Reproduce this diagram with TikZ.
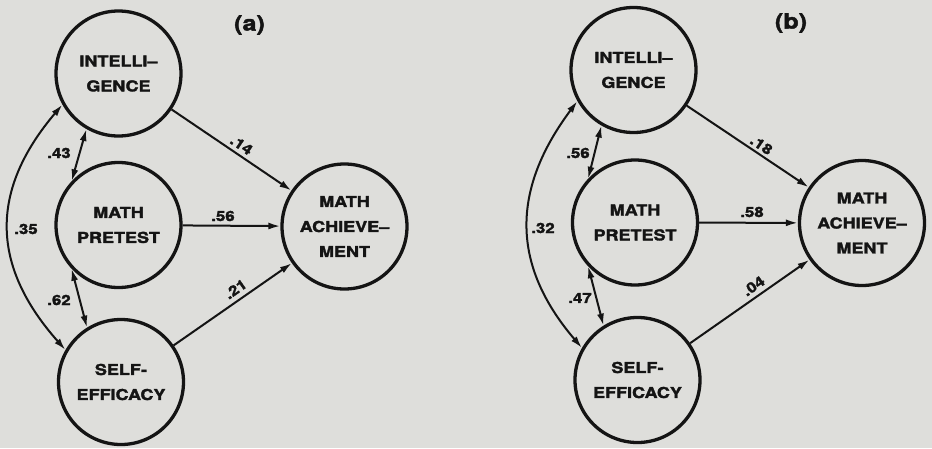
\documentclass[tikz,border=0pt]{standalone}
\usepackage{fontspec}
\newfontfamily\dfont[FakeStretch=1.2,FakeBold=2,BoldFeatures={FakeBold=2}]{TeX Gyre Heros}
\usetikzlibrary{arrows.meta}
\definecolor{paper}{RGB}{222,222,219}
\definecolor{ink}{RGB}{20,20,20}
\tikzset{
  var/.style={circle,draw=ink,line width=3.3pt,minimum size=125pt,inner sep=0pt,
    align=center,text=ink,font=\dfont\bfseries\fontsize{15}{25}\selectfont},
  arr/.style={draw=ink,line width=2pt,-{Latex[length=12pt,width=7pt]}},
  darr/.style={draw=ink,line width=2pt,{Latex[length=12pt,width=7pt]}-{Latex[length=12pt,width=7pt]}},
  coef/.style={text=ink,inner sep=0.5pt,font=\dfont\bfseries\fontsize{14}{14}\selectfont},
  ptitle/.style={text=ink,inner sep=0pt,font=\dfont\bfseries\fontsize{21}{21}\selectfont}
}
\begin{document}
\begin{tikzpicture}[x=1pt,y=-1pt]
\fill[paper] (0,0) rectangle (932,448);
\useasboundingbox (0,0) rectangle (932,448);

% ---------- panel (a)
\node[ptitle] (ta) at (249.5,25) {(a)};
\node[var] (ia) at (118.5,73.5) {INTELLI–\\GENCE};
\node[var] (pa) at (118.5,225) {MATH\\PRETEST};
\node[var] (aa) at (344.5,226.5) {MATH\\ACHIEVE–\\MENT};
\node[var] (sa) at (121,382) {SELF-\\EFFICACY};

\draw[arr] (ia) -- (aa);
\draw[arr] (pa) -- (aa);
\draw[arr] (sa) -- (aa);
\draw[darr] (ia.240) -- (pa.137);
\draw[darr] (pa.223) -- (sa.122);
\draw[darr] (ia.209) .. controls (-10,190) and (-10,265) .. (sa.150);

\node[coef] (a43) at (59,153) {.43};
\node[coef] (a62) at (59,300) {.62};
\node[coef] (a35) at (26,229) {.35};
\node[coef] (a56) at (223,216) {.56};
\node[coef,rotate=-34] (a14) at (241.5,145) {.14};
\node[coef,rotate=35] (a21) at (235.5,289) {.21};

% ---------- panel (b)
\node[ptitle] (tb) at (791,23) {(b)};
\node[var] (ib) at (633.5,70) {INTELLI–\\GENCE};
\node[var] (pb) at (635,222.5) {MATH\\PRETEST};
\node[var] (ab) at (862,223) {MATH\\ACHIEVE–\\MENT};
\node[var] (sb) at (637.5,380) {SELF-\\EFFICACY};

\draw[arr] (ib) -- (ab);
\draw[arr] (pb) -- (ab);
\draw[arr] (sb) -- (ab);
\draw[darr] (ib.240) -- (pb.137);
\draw[darr] (pb.223) -- (sb.122);
\draw[darr] (ib.209) .. controls (511,190) and (511,265) .. (sb.150);

\node[coef] (b56) at (578,153) {.56};
\node[coef] (b47) at (580,298) {.47};
\node[coef] (b32) at (543,228) {.32};
\node[coef] (b58) at (752,212) {.58};
\node[coef,rotate=-34] (b18) at (761.5,145) {.18};
\node[coef,rotate=35] (b04) at (753.5,286) {.04};
\end{tikzpicture}
\end{document}
